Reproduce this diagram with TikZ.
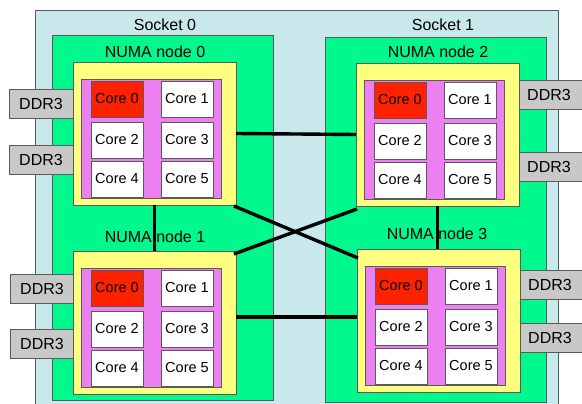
\documentclass[tikz,border=0pt]{standalone}
\usepackage{fontspec}
\setmainfont{Liberation Sans}
\usetikzlibrary{calc}
\definecolor{socketbg}{RGB}{200,232,236}
\definecolor{numagreen}{RGB}{0,248,140}
\definecolor{dieyellow}{RGB}{255,255,128}
\definecolor{cachepink}{RGB}{236,128,240}
\definecolor{corered}{RGB}{255,34,0}
\definecolor{ddrgray}{RGB}{200,200,200}
\definecolor{edge}{RGB}{90,90,90}

\tikzset{
  box/.style={draw=edge, line width=0.8pt, inner sep=0pt, outer sep=0pt, anchor=north west},
  socketbox/.style={box, fill=socketbg},
  numabox/.style={box, fill=numagreen, minimum width=221pt, minimum height=365pt},
  diebox/.style={box, fill=dieyellow, minimum width=163pt, minimum height=143pt},
  cachebox/.style={box, fill=cachepink, minimum width=140pt, minimum height=119pt},
  corebox/.style={box, fill=white, minimum width=52pt, minimum height=36pt, font=\fontsize{14.5}{16}\selectfont},
  firstcore/.style={corebox, fill=corered},
  ddrbox/.style={box, fill=ddrgray, minimum width=64pt, minimum height=29pt, font=\fontsize{16}{18}\selectfont},
  lbl/.style={font=\fontsize{16}{18}\selectfont, inner sep=0pt},
  link/.style={line width=3.4pt, black},
}

% one NUMA node: yellow die, pink cache area and six cores
\newcommand\numanode[3]{%
  \node[diebox] (#1) at (#2,#3) {};
  \node[cachebox] (#1p) at ({#2+8},{#3+17}) {};
  \node[firstcore] (#1c0) at ({#2+18},{#3+19}) {Core 0};
  \node[corebox] (#1c1) at ({#2+88},{#3+19}) {Core 1};
  \node[corebox] (#1c2) at ({#2+18},{#3+60}) {Core 2};
  \node[corebox] (#1c3) at ({#2+88},{#3+60}) {Core 3};
  \node[corebox] (#1c4) at ({#2+18},{#3+99}) {Core 4};
  \node[corebox] (#1c5) at ({#2+88},{#3+99}) {Core 5};
}

\begin{document}
\begin{tikzpicture}[x=1pt, y=-1pt]
\useasboundingbox (0,0) rectangle (582,404);
\fill[white] (0,0) rectangle (582,404);
\begin{scope}
\clip (0,0) rectangle (582,404);

% sockets
\node[socketbox, minimum width=523pt, minimum height=400pt] (sock) at (35,10) {};
\node[lbl] (s0) at (165,25) {Socket 0};
\node[lbl] (s1) at (443,25) {Socket 1};

% NUMA regions of each socket
\node[numabox] (g0) at (52,35) {};
\node[numabox] (g1) at (325,37) {};
\node[lbl] (l0) at (155,52) {NUMA node 0};
\node[lbl] (l2) at (438,52) {NUMA node 2};
\node[lbl] (l1) at (155,237) {NUMA node 1};
\node[lbl] (l3) at (437,234) {NUMA node 3};

% memory channels
\node[ddrbox] (m0a) at (9,89) {DDR3};
\node[ddrbox] (m0b) at (9,145) {DDR3};
\node[ddrbox] (m1a) at (10,274) {DDR3};
\node[ddrbox] (m1b) at (10,329) {DDR3};
\node[ddrbox, minimum width=66pt] (m2a) at (519,80) {\hspace*{-6pt}DDR3};
\node[ddrbox, minimum width=66pt] (m2b) at (519,152) {\hspace*{-6pt}DDR3};
\node[ddrbox, minimum width=66pt] (m3a) at (520,270) {\hspace*{-6pt}DDR3};
\node[ddrbox, minimum width=66pt] (m3b) at (520,323) {\hspace*{-6pt}DDR3};

% dies
\numanode{n0}{73}{62}
\numanode{n1}{73}{251}
\numanode{n2}{356}{63}
\numanode{n3}{357}{249}

% interconnect
\draw[link] (n0.east) -- (n2.west);
\draw[link] (n1.east |- 0,317) -- (n3.west |- 0,317);
\draw[link] (n0.south) -- (n1.north);
\draw[link] (n2.south) -- (n2.south |- n3.north);
\draw[link] ($(n0.south east)+(-2,1)$) -- ($(n3.north west)+(1,9)$);
\draw[link] ($(n1.north east)+(-2,3)$) -- ($(n2.south west)+(1,3)$);
\end{scope}
\end{tikzpicture}
\end{document}
